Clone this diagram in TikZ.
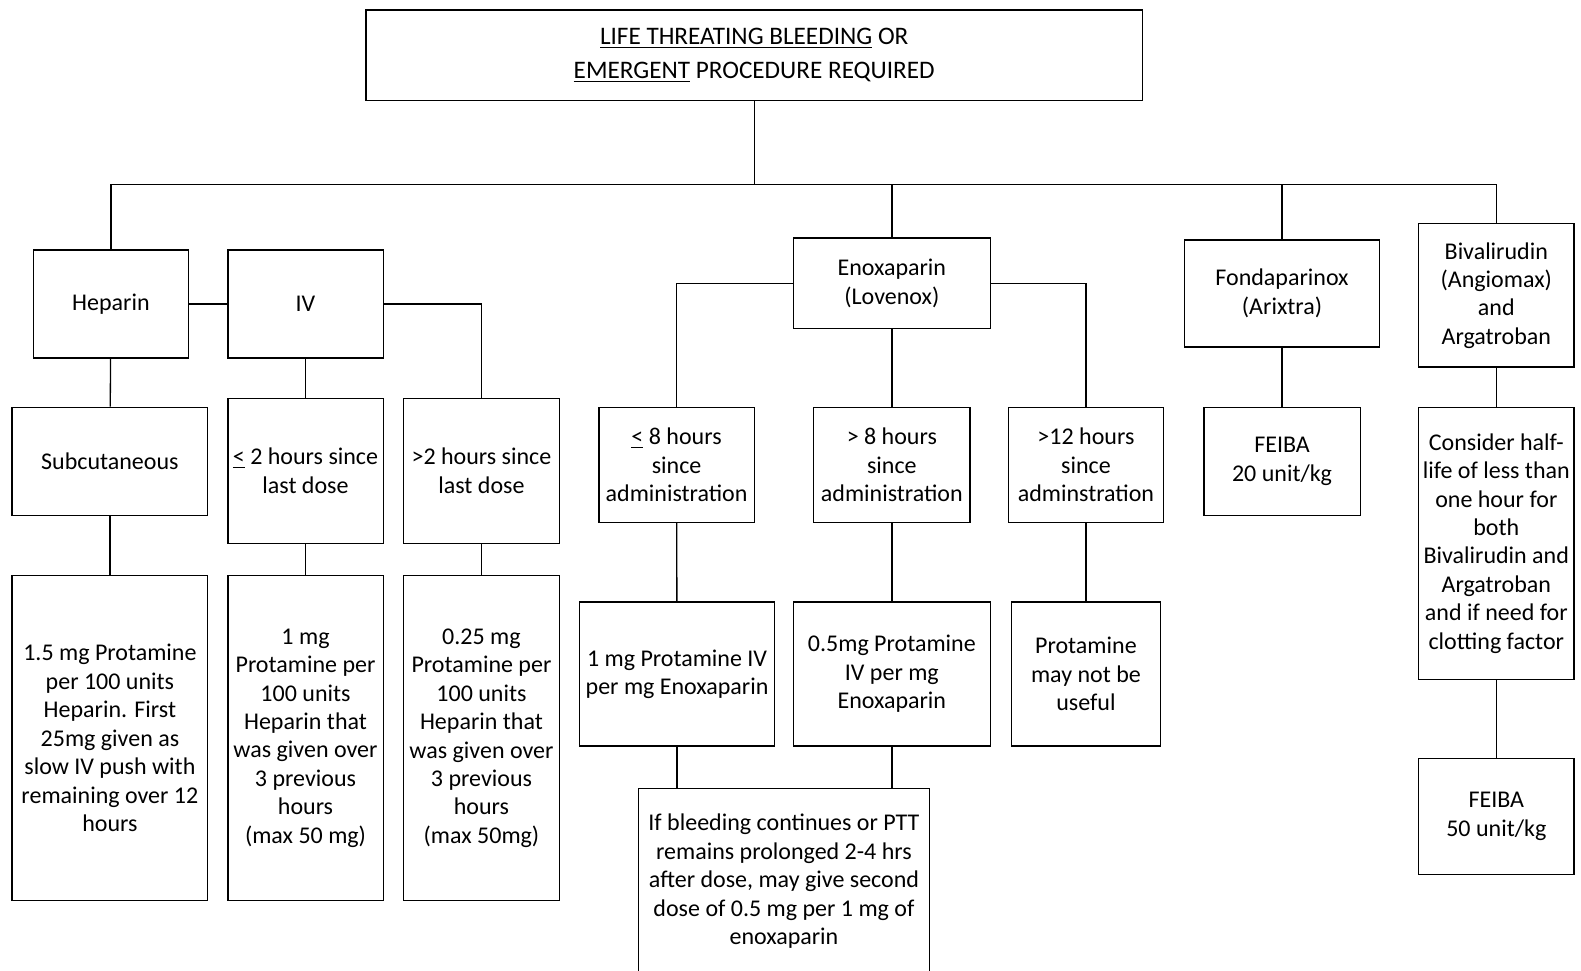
\documentclass[tikz,border=0pt]{standalone}
\usepackage{fontspec}
\setmainfont{Carlito}
\tikzset{>=stealth}
\tikzset{
    box/.style 2 args={draw, line width=0.65pt, align=center, inner sep=0pt,
        minimum width=#1*0.5pt, minimum height=#2*0.5pt,
        font=\fontsize{11.9}{14.1}\selectfont},
    link/.style={line width=0.65pt}
}

\begin{document}
\begin{tikzpicture}[x=0.5pt, y=-0.5pt]
    \useasboundingbox (0,0) rectangle (1568,963);
    \node [box={770}{90}, font=\fontsize{12.5}{16.5}\selectfont] (Top) at (748,55)
        {\underline{LIFE THREATING BLEEDING} OR\\\underline{EMERGENT} PROCEDURE REQUIRED};
    \coordinate (B) at (748,183);
    % heparin
    \node [box={154}{107}] (Hep) at (110,301.5) {Heparin};
    \node [box={154}{107}] (IV) at (303,301.5) {IV};
    \node [box={194}{107}] (Sub) at (109,457.5) {Subcutaneous};
    \node [box={154}{144}] (LeTwo) at (303,467) {\underline{<} 2 hours since\\last dose};
    \node [box={155}{144}] (GtTwo) at (477.5,467) {>2 hours since\\last dose};
    \node [box={194}{322}] (DoseS) at (109,732)
        {1.5 mg Protamine\\per 100 units\\Heparin. First\\25mg given as\\slow IV push with\\remaining over 12\\hours};
    \node [box={154}{322}] (DoseA) at (303,732)
        {1 mg\\Protamine per\\100 units\\Heparin that\\was given over\\3 previous\\hours\\(max 50 mg)};
    \node [box={155}{322}] (DoseB) at (477.5,732)
        {0.25 mg\\Protamine per\\100 units\\Heparin that\\was given over\\3 previous\\hours\\(max 50mg)};
    % enoxaparin
    \node [box={195}{90}] (Eno) at (884.5,281) {Enoxaparin\\(Lovenox)};
    \node [box={154}{114}] (LeEight) at (671,461) {\underline{<} 8 hours\\since\\administration};
    \node [box={155}{114}] (GtEight) at (884.5,461) {> 8 hours\\since\\administration};
    \node [box={154}{114}] (GtTwelve) at (1077,461) {>12 hours\\since\\adminstration};
    \node [box={193}{143}] (ProA) at (671.5,668.5) {1 mg Protamine IV\\per mg Enoxaparin};
    \node [box={195}{143}] (ProB) at (884.5,668.5) {0.5mg Protamine\\IV per mg\\Enoxaparin};
    \node [box={148}{143}] (ProC) at (1077,668.5) {Protamine\\may not be\\useful};
    \node [box={289}{184}] (Second) at (777.5,874)
        {If bleeding continues or PTT\\remains prolonged 2-4 hrs\\after dose, may give second\\dose of 0.5 mg per 1 mg of\\enoxaparin};
    % fondaparinux, bivalirudin
    \node [box={193}{106}] (Fon) at (1271.5,291) {Fondaparinox\\(Arixtra)};
    \node [box={155}{107}] (FeibaA) at (1271.5,457.5) {FEIBA\\20 unit/kg};
    \node [box={154}{142}] (Biv) at (1484,293) {Bivalirudin\\(Angiomax)\\and\\Argatroban};
    \node [box={154}{270}] (Con) at (1484,539)
        {Consider half-\\life of less than\\one hour for\\both\\Bivalirudin and\\Argatroban\\and if need for\\clotting factor};
    \node [box={154}{115}] (FeibaB) at (1484,809.5) {FEIBA\\50 unit/kg};

    \draw [link] (Top) -- (B);
    \draw [link] (Hep.north) -- (Hep.north |- B) -- (Biv.north |- B) -- (Biv.north);
    \draw [link] (Eno.north) -- (Eno.north |- B);
    \draw [link] (Fon.north) -- (Fon.north |- B);
    \draw [link] (Hep) -- (IV);
    \draw [link] (IV.east) -| (GtTwo.north);
    \draw [link] (IV) -- (LeTwo);
    \draw [link] (Hep) -- (Sub);
    \draw [link] (Sub) -- (DoseS);
    \draw [link] (LeTwo) -- (DoseA);
    \draw [link] (GtTwo) -- (DoseB);
    \draw [link] (Eno.west) -| (LeEight.north);
    \draw [link] (Eno.east) -| (GtTwelve.north);
    \draw [link] (Eno) -- (GtEight);
    \draw [link] (LeEight) -- (ProA);
    \draw [link] (GtEight) -- (ProB);
    \draw [link] (GtTwelve) -- (ProC);
    \draw [link] (ProA.south) -- (ProA.south |- Second.north);
    \draw [link] (ProB.south) -- (ProB.south |- Second.north);
    \draw [link] (Fon) -- (FeibaA);
    \draw [link] (Biv) -- (Con);
    \draw [link] (Con) -- (FeibaB);
\end{tikzpicture}
\end{document}
